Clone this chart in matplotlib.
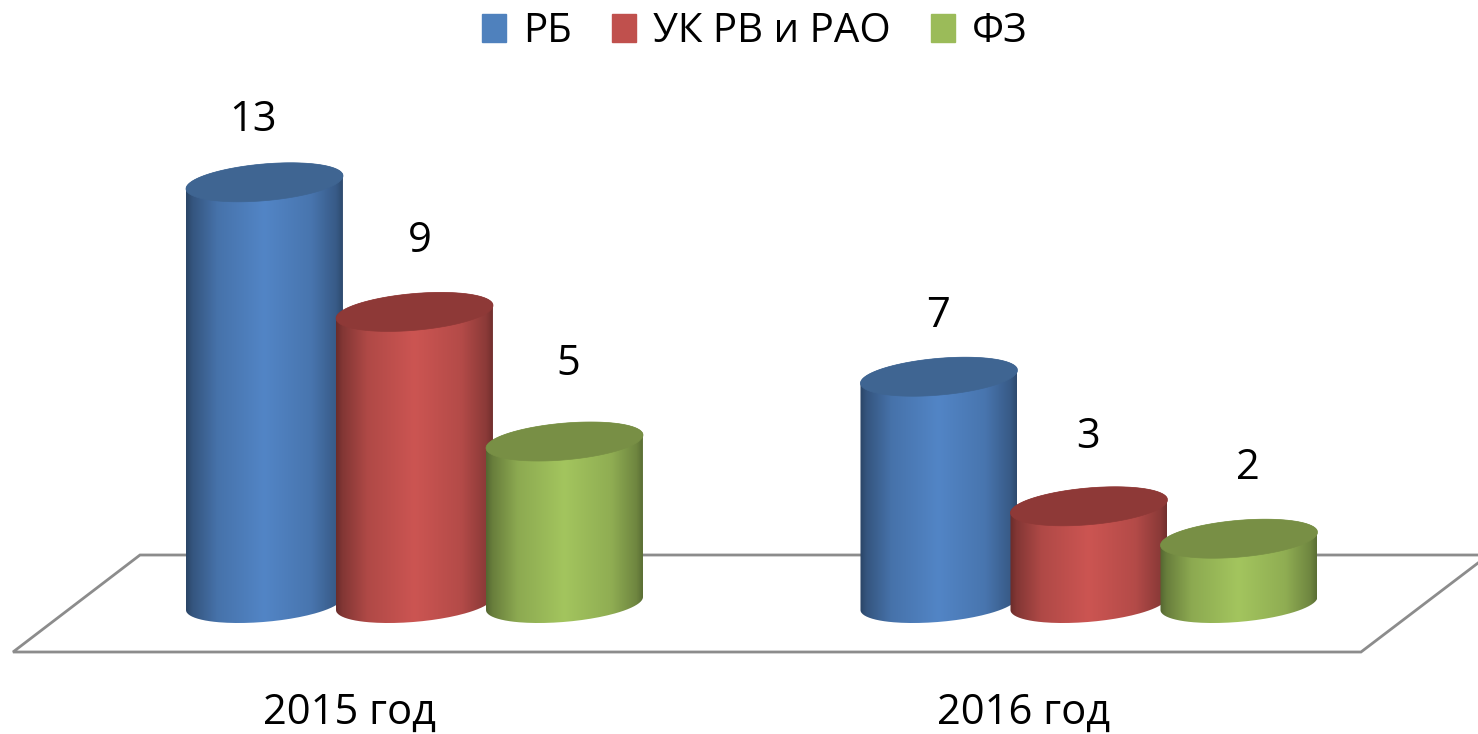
import numpy as np
import matplotlib
matplotlib.use('Agg')
import matplotlib.pyplot as plt
from matplotlib.patches import PathPatch, Patch
from matplotlib.path import Path

plt.rcParams['font.family'] = ['Open Sans', 'DejaVu Sans']

years = ['2015 год', '2016 год']
series = ['РБ', 'УК РВ и РАО', 'ФЗ']
rb = [13, 7]
uk = [9, 3]
fz = [5, 2]

base_colors = ['#4F81BD', '#C0504D', '#9BBB59']
mid_colors = ['#5285C6', '#CC5552', '#A3C55E']
top_colors = ['#3F6592', '#8E3937', '#788F45']

# pixels per data unit, the chart is laid out on the full figure
W, H = 1478, 734
PX_X = 674.5
PX_Y = 32.4
X0 = 414.5
Y0 = 603.5

BAR_OFFSET = 150 / PX_X
A = 78.5 / PX_X
B = 18.4 / PX_Y
SHEAR = 6.5 / PX_Y / A

# label nudges in pixels (dx, dy from top of bar)
label_nudge = [[(-11, 62), (-1, 61)], [(5, 71), (-1, 69)], [(4, 78), (9, 71)]]

# brightness across the cylinder
stops = [0, 0.04, 0.2, 0.5, 0.8, 0.96, 1]
shade = [0.52, 0.64, 0.86, 1.0, 0.88, 0.68, 0.56]


def px(x, y):
    return (x - X0) / PX_X, (Y0 - y) / PX_Y


def ellipse_xy(cx, cy, t):
    x = cx + A * np.cos(t)
    y = cy + SHEAR * A * np.cos(t) + B * np.sin(t)
    return x, y


def draw_cylinder(ax, cx, value, mid, top, z):
    # body outline: lower half of bottom ellipse, upper side closed by top ellipse
    t = np.linspace(np.pi, 2 * np.pi, 80)
    bx, by = ellipse_xy(cx, 0, t)
    t2 = np.linspace(0, np.pi, 80)
    tx, ty = ellipse_xy(cx, value, t2)
    verts = np.column_stack([np.r_[bx, tx], np.r_[by, ty]])
    clip = PathPatch(Path(verts), transform=ax.transData, fc='none', ec='none')
    ax.add_patch(clip)

    u = np.linspace(0, 1, 200)
    k = np.interp(u, stops, shade)
    rgb = np.outer(k, matplotlib.colors.to_rgb(mid))[None, :, :]
    im = ax.imshow(rgb, extent=(cx - A, cx + A, by.min() - 0.1, ty.max() + 0.1),
                   aspect='auto', zorder=z, interpolation='bilinear')
    im.set_clip_path(clip)

    t3 = np.linspace(0, 2 * np.pi, 160)
    ex, ey = ellipse_xy(cx, value, t3)
    ax.fill(ex, ey, color=top, lw=0.5, zorder=z + 0.1)


fig = plt.figure(figsize=(W / 100, H / 100), dpi=100)
ax = fig.add_axes([0, 0, 1, 1])
ax.axis('off')

# floor of the 3D chart, one open polyline round the plane
floor_x = np.array([1478, 140, 13, 1361, 1478])
floor_y = np.array([555, 555, 652, 652, 563])
fx, fy = px(floor_x, floor_y)
ax.plot(fx, fy, color='#8C8C8C', lw=2, zorder=1, solid_joinstyle='miter')

for g in range(len(years)):
    for s, vals in enumerate([rb, uk, fz]):
        cx = g + (s - 1) * BAR_OFFSET
        draw_cylinder(ax, cx, vals[g], mid_colors[s], top_colors[s], 2 + g + s * 0.2)
        dx, dy = label_nudge[s][g]
        ax.annotate(str(vals[g]), (cx, vals[g]), xytext=(dx * 0.72, dy * 0.72),
                    textcoords='offset points', ha='center', va='center',
                    fontsize=30, color='black', zorder=10)

for g, year in enumerate(years):
    ax.text(g - 65 / PX_X, px(0, 724)[1], year, ha='center', va='baseline',
            fontsize=30, color='black')

handles = [Patch(color=c) for c in base_colors]
ax.legend(handles, series, loc='center', bbox_to_anchor=(755 / W, 1 - 32 / H),
          ncol=3, frameon=False, fontsize=29, handlelength=0.6, handleheight=0.68,
          handletextpad=0.42, columnspacing=1.0, borderpad=0)

ax.set_xlim((0 - X0) / PX_X, (W - X0) / PX_X)
ax.set_ylim((Y0 - H) / PX_Y, Y0 / PX_Y)

fig.savefig('out.png', dpi=100)
